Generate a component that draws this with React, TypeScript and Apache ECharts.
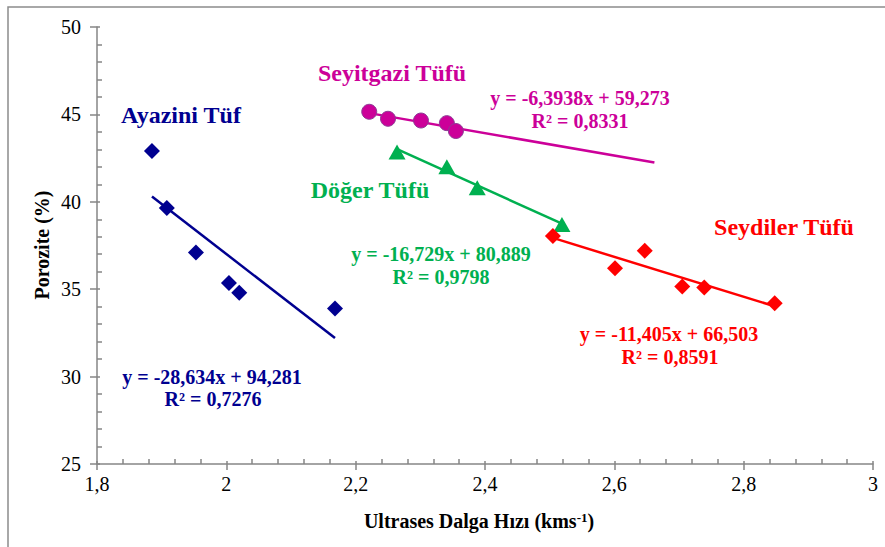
import React, { useEffect, useRef } from "react";
import * as echarts from "echarts";

const ayaziniX = [1.885, 1.908, 1.953, 2.004, 2.02, 2.168];
const ayaziniY = [42.9, 39.65, 37.1, 35.35, 34.8, 33.9];
const seyitgaziX = [2.221, 2.25, 2.301, 2.341, 2.355];
const seyitgaziY = [45.15, 44.75, 44.65, 44.5, 44.05];
const dogerX = [2.264, 2.341, 2.388, 2.519];
const dogerY = [42.85, 42.0, 40.8, 38.7];
const seydilerX = [2.505, 2.601, 2.647, 2.705, 2.739, 2.848];
const seydilerY = [38.05, 36.2, 37.2, 35.15, 35.1, 34.2];

// trendline coefficients [slope, intercept] and x ranges
const ayaziniTrend = [-28.634, 94.281];
const ayaziniRange = [1.885, 2.168];
const seyitgaziTrend = [-6.3938, 59.273];
const seyitgaziRange = [2.221, 2.662];
const dogerTrend = [-16.729, 80.889];
const dogerRange = [2.264, 2.519];
const seydilerTrend = [-11.405, 66.503];
const seydilerRange = [2.505, 2.848];

const xMin = 1.8, xMax = 3, xStep = 0.2;
const yMin = 25, yMax = 50, yStep = 5;

const BLUE = "#000090";
const MAGENTA = "#CC0099";
const GREEN = "#00B050";
const RED = "#FF0000";
const FONT = '"Liberation Serif", "Times New Roman", serif';

const pts = (xs: number[], ys: number[]) => xs.map((x, i) => [x, ys[i]]);
const trend = (c: number[], r: number[]) => r.map((x) => [x, c[0] * x + c[1]]);
const fmt = (v: number) => String(Math.round(v * 10) / 10).replace(".", ",");

export default function App() {
  const ref = useRef<HTMLDivElement>(null);
  useEffect(() => {
    if (!ref.current) return;
    const chart = echarts.init(ref.current, null, { renderer: "svg" });
    const axisLine = { show: true, lineStyle: { color: "#868686", width: 1.5 } };
    const baseX = { type: "value", min: xMin, max: xMax, interval: xStep };
    const baseY = { type: "value", min: yMin, max: yMax, interval: yStep };
    const label = { color: "#000", fontFamily: FONT, fontSize: 20 };
    const trendSeries = (data: number[][], color: string) => ({
      type: "line",
      data,
      symbol: "none",
      lineStyle: { color, width: 2.5 },
      z: 1,
    });
    chart.setOption({
      animation: false,
      grid: { left: 97, right: 12, top: 27, bottom: 83 },
      xAxis: [
        {
          ...baseX,
          axisLine: { ...axisLine, onZero: false },
          axisTick: { show: true, inside: false, length: 6, lineStyle: { color: "#868686", width: 1.5 } },
          axisLabel: { ...label, margin: 10, formatter: fmt },
          splitLine: { show: false },
        },
        {
          ...baseX,
          position: "bottom",
          axisLine: { show: false, onZero: false },
          axisTick: { show: true, inside: true, length: 3, lineStyle: { color: "#868686", width: 1.5 } },
          minorTick: { show: true, splitNumber: 5, length: 5, lineStyle: { color: "#868686", width: 1.5 } },
          axisLabel: { show: false },
          splitLine: { show: false },
        },
      ],
      yAxis: [
        {
          ...baseY,
          axisLine: { ...axisLine, onZero: false },
          axisTick: { show: true, inside: false, length: 7, lineStyle: { color: "#868686", width: 1.5 } },
          axisLabel: { ...label, margin: 16, formatter: fmt },
          splitLine: { show: false },
        },
        {
          ...baseY,
          position: "left",
          axisLine: { show: false, onZero: false },
          axisTick: { show: true, inside: true, length: 3, lineStyle: { color: "#868686", width: 1.5 } },
          minorTick: { show: true, splitNumber: 5, length: 5, lineStyle: { color: "#868686", width: 1.5 } },
          axisLabel: { show: false },
          splitLine: { show: false },
        },
      ],
      series: [
        trendSeries(trend(ayaziniTrend, ayaziniRange), BLUE),
        trendSeries(trend(seyitgaziTrend, seyitgaziRange), MAGENTA),
        trendSeries(trend(dogerTrend, dogerRange), GREEN),
        trendSeries(trend(seydilerTrend, seydilerRange), RED),
        {
          type: "scatter",
          data: pts(ayaziniX, ayaziniY),
          symbol: "diamond",
          symbolSize: [16, 16],
          itemStyle: { color: BLUE, opacity: 1 },
          z: 3,
        },
        {
          type: "scatter",
          data: pts(seyitgaziX, seyitgaziY),
          symbol: "circle",
          symbolSize: 15,
          itemStyle: { color: MAGENTA, borderColor: "#8E3C96", borderWidth: 1, opacity: 1 },
          z: 3,
        },
        {
          type: "scatter",
          data: pts(dogerX, dogerY),
          symbol: "triangle",
          symbolSize: [17, 15],
          itemStyle: { color: GREEN, opacity: 1 },
          z: 3,
        },
        {
          type: "scatter",
          data: pts(seydilerX, seydilerY),
          symbol: "diamond",
          symbolSize: [16, 16],
          itemStyle: { color: RED, opacity: 1 },
          z: 3,
        },
      ],
      graphic: [
        {
          type: "rect",
          shape: { x: 8, y: 7, width: 1000, height: 700 },
          style: { fill: "none", stroke: "#8C8C8C", lineWidth: 1.5 },
          silent: true,
          z: -1,
        },
        ...[
          ["Ayazini Tüf", 181, 115, BLUE, 24],
          ["Seyitgazi Tüfü", 392, 73, MAGENTA, 24],
          ["Döğer Tüfü", 370, 190, GREEN, 24],
          ["Seydiler Tüfü", 784, 227, RED, 24],
          ["y = -6,3938x + 59,273", 580, 98, MAGENTA, 20],
          ["R² = 0,8331", 580, 121, MAGENTA, 20],
          ["y = -16,729x + 80,889", 441, 254, GREEN, 20],
          ["R² = 0,9798", 441, 277, GREEN, 20],
          ["y = -11,405x + 66,503", 669, 334, RED, 20],
          ["R² = 0,8591", 670, 357, RED, 20],
          ["y = -28,634x + 94,281", 212, 377, BLUE, 20],
          ["R² = 0,7276", 213, 399, BLUE, 20],
        ].map(([text, x, y, fill, size]) => ({
          type: "text",
          x: x as number,
          y: y as number,
          style: {
            text: text as string,
            fill: fill as string,
            font: `bold ${size}px ${FONT}`,
            align: "center",
            verticalAlign: "middle",
          },
          z: 10,
        })),
        {
          type: "text",
          x: 42,
          y: 245,
          rotation: Math.PI / 2,
          style: {
            text: "Porozite (%)",
            fill: "#000",
            font: `bold 20px ${FONT}`,
            align: "center",
            verticalAlign: "middle",
          },
        },
        {
          type: "text",
          x: 479,
          y: 521,
          style: {
            text: "{a|Ultrases Dalga Hızı (kms}{s|-1}{a|)}",
            align: "center",
            verticalAlign: "middle",
            rich: {
              a: { fontFamily: FONT, fontWeight: "bold", fontSize: 20, fill: "#000", color: "#000" },
              s: { fontFamily: FONT, fontWeight: "bold", fontSize: 13, fill: "#000", color: "#000", verticalAlign: "top", padding: [0, 0, 8, 0] },
            },
          },
        },
      ],
    });
    return () => chart.dispose();
  }, []);
  return (
    <div
      ref={ref}
      style={{ position: "fixed", left: 0, top: 0, width: 885, height: 547, background: "#fff" }}
    />
  );
}
